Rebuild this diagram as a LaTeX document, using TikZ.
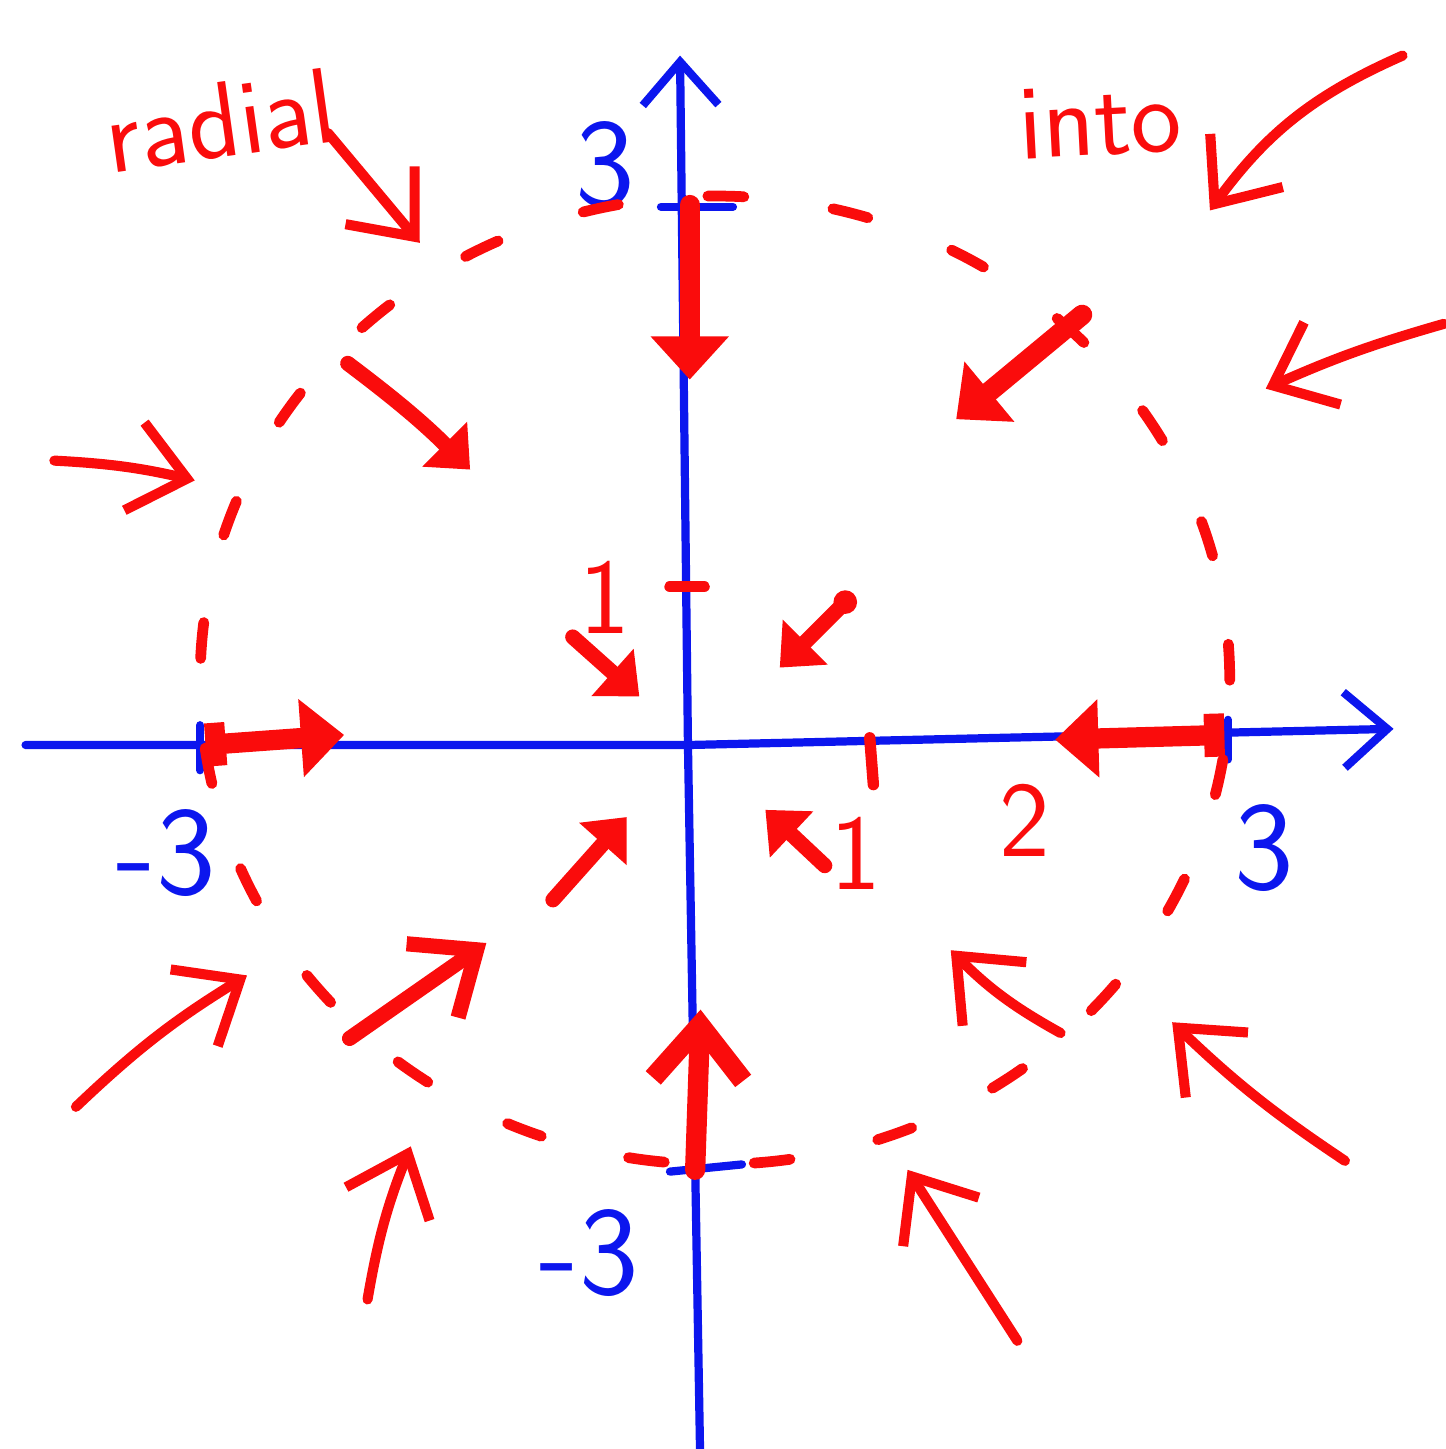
\documentclass[tikz,border=0pt]{standalone}
\usepackage{tikz}
\usetikzlibrary{arrows.meta}
\definecolor{penred}{RGB}{250,12,12}
\definecolor{penblue}{RGB}{12,22,238}

\begin{document}
\begin{tikzpicture}[
  line cap=round, line join=round,
  axis/.style={penblue, line width=1.3pt,
    -{Straight Barb[length=0.24cm, width=0.42cm]}},
  tickmark/.style={line width=1.3pt},
  vec/.style={penred, line width=1.6pt,
    -{Straight Barb[length=0.3cm, width=0.5cm]}},
  bigvec/.style={penred, line width=3.2pt,
    -{Triangle[length=0.24cm, width=0.42cm]}},
  smallvec/.style={penred, line width=2.4pt,
    -{Triangle[length=0.2cm, width=0.34cm]}},
  lbl/.style={penred, font=\sffamily\fontsize{17}{20}\selectfont},
  num/.style={font=\sffamily\fontsize{20}{24}\selectfont}
]
  \useasboundingbox (-3.822,-3.911) rectangle (4.206,4.139);

  % axes
  \draw[axis] (-3.68,0) -- (0,0) -- (3.92,0.09);
  \draw[axis] (0.067,-3.91) -- (0,0) -- (-0.044,3.83);

  \draw[penblue, tickmark] (3.0,0.14) -- (3.0,-0.08);
  \draw[penblue, tickmark] (-2.71,0.11) -- (-2.71,-0.14);
  \draw[penblue, tickmark] (-0.15,2.99) -- (0.25,2.99);
  \draw[penblue, tickmark] (-0.1,-2.37) -- (0.3,-2.33);
  \draw[penred, tickmark, line width=1.8pt] (-0.1,0.88) -- (0.09,0.88);
  \draw[penred, tickmark, line width=1.8pt] (1.01,0.04) -- (1.03,-0.22);

  \node[num, penblue] (ytop) at (-0.46,3.22) {3};
  \node[num, penblue] (xleft) at (-2.9,-0.6) {-3};
  \node[num, penblue] (xright) at (3.2,-0.57) {3};
  \node[num, penblue] (ybot) at (-0.55,-2.82) {-3};
  \node[lbl] (xtwo) at (1.87,-0.42) {2};
  \node[lbl] (yone) at (-0.46,0.82) {1};
  \node[lbl] (xone) at (0.93,-0.6) {1};

  \node[lbl, rotate=8] (radial) at (-2.6,3.47) {radial};
  \node[lbl, rotate=3] (into) at (2.29,3.47) {into};

  % dashed level curve
  \draw[penred, line width=1.7pt, dash pattern=on 0.2cm off 0.5cm]
    (0.15,0.36) ellipse [x radius=2.86, y radius=2.69];

  % outer arrows
  \draw[vec] (-2.0,3.4) -- (-1.49,2.79);
  \draw[vec] (3.97,3.83) to[bend right=15] (2.9,2.97);
  \draw[vec] (4.2,2.34) to[bend right=4] (3.21,1.98);
  \draw[vec] (-3.52,1.58) to[bend left=5] (-2.74,1.47);
  \draw[vec] (-3.4,-2.01) to[bend left=6] (-2.45,-1.28);
  \draw[vec] (-1.78,-3.08) to[bend left=6] (-1.54,-2.23);
  \draw[vec] (1.83,-3.31) -- (1.22,-2.36);
  \draw[vec] (3.65,-2.31) to[bend left=5] (2.69,-1.54);

  % arrows from the curve
  \draw[bigvec] (0.01,3.0) -- (0.01,2.03);
  \draw[bigvec, {Bar[width=0.24cm]}-{Triangle[length=0.24cm, width=0.42cm]}]
    (2.98,0.056) -- (2.04,0.03);
  \draw[bigvec, {Bar[width=0.24cm]}-{Triangle[length=0.24cm, width=0.42cm]}]
    (-2.68,0.0) -- (-1.91,0.056);
  \draw[bigvec, -{Straight Barb[length=0.3cm, width=0.5cm]}]
    (0.04,-2.36) -- (0.07,-1.47);
  \draw[bigvec] (2.19,2.39) -- (1.49,1.81);
  \draw[smallvec, -{Straight Barb[length=0.3cm, width=0.5cm]}]
    (-1.88,-1.63) -- (-1.12,-1.1);
  \draw[smallvec] (-1.89,2.12) to[bend left=4] (-1.21,1.53);
  \draw[vec] (2.07,-1.6) to[bend left=8] (1.46,-1.14);

  % inner arrows
  \draw[smallvec, {Circle[length=0.13cm]}-{Triangle[length=0.2cm, width=0.34cm]}]
    (0.92,0.84) -- (0.51,0.43);
  \draw[smallvec] (-0.64,0.6) -- (-0.27,0.27);
  \draw[smallvec] (-0.75,-0.86) -- (-0.34,-0.4);
  \draw[smallvec] (0.76,-0.67) -- (0.43,-0.36);

\end{tikzpicture}
\end{document}
